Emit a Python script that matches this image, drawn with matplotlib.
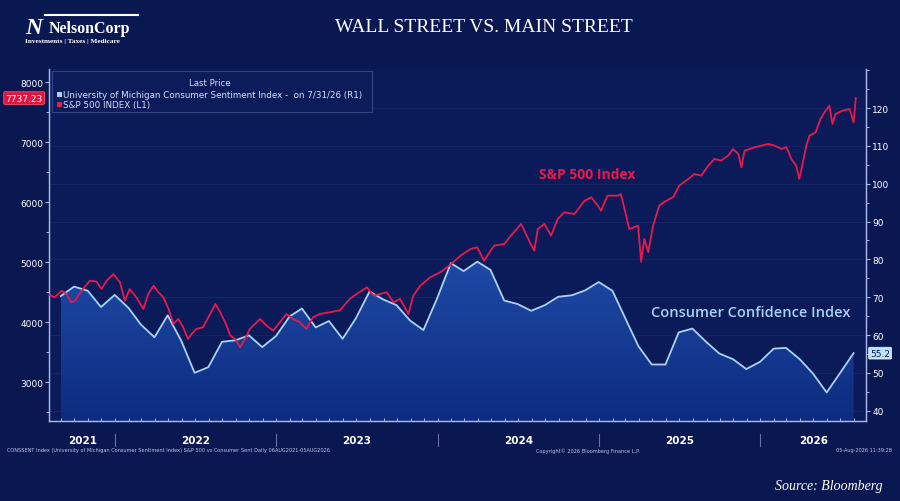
import numpy as np
import pandas as pd
import matplotlib
matplotlib.use("Agg")
import matplotlib.pyplot as plt
import matplotlib.dates as mdates
import matplotlib.transforms as mtransforms
from matplotlib.patches import Rectangle

# University of Michigan consumer sentiment, month end (right axis)
sent_dates = pd.date_range("2021-08-31", "2026-07-31", freq="ME")
sent_values = [70.3, 72.8, 71.7, 67.4, 70.6,
               67.2, 62.8, 59.4, 65.2, 58.4, 50.0, 51.5, 58.2, 58.6, 59.9, 56.8, 59.7,
               64.9, 67.0, 62.0, 63.7, 59.0, 64.4, 71.5, 69.4, 67.9, 63.8, 61.3, 69.7,
               79.0, 76.9, 79.4, 77.2, 69.1, 68.2, 66.4, 67.9, 70.1, 70.5, 71.8, 74.0,
               71.7, 64.7, 57.0, 52.2, 52.2, 60.7, 61.7, 58.2, 55.1, 53.6, 51.0, 52.9,
               56.4, 56.6, 53.6, 49.8, 44.8, 49.9, 55.2]

# S&P 500 (left axis)
spx_dates = ["2021-08-06", "2021-08-17", "2021-09-02", "2021-09-13", "2021-09-24", "2021-10-02",
             "2021-10-17", "2021-11-05", "2021-11-20", "2021-12-01", "2021-12-13", "2021-12-28",
             "2022-01-12", "2022-01-23", "2022-02-03", "2022-02-18", "2022-03-06", "2022-03-17",
             "2022-03-29", "2022-04-09", "2022-04-20", "2022-05-02", "2022-05-13", "2022-05-24",
             "2022-06-04", "2022-06-15", "2022-06-23", "2022-07-04", "2022-07-19", "2022-08-04",
             "2022-08-16", "2022-08-27", "2022-09-07", "2022-09-19", "2022-09-30", "2022-10-11",
             "2022-10-22", "2022-11-02", "2022-11-25", "2022-12-10", "2022-12-25", "2023-01-09",
             "2023-01-24", "2023-02-08", "2023-02-23", "2023-03-10", "2023-03-25", "2023-04-09",
             "2023-05-02", "2023-05-25", "2023-06-16", "2023-07-02", "2023-07-25", "2023-08-09",
             "2023-08-24", "2023-09-08", "2023-09-23", "2023-10-08", "2023-10-27", "2023-11-07",
             "2023-11-23", "2023-12-15", "2024-01-07", "2024-01-30", "2024-02-22", "2024-03-16",
             "2024-03-31", "2024-04-15", "2024-05-08", "2024-05-31", "2024-06-15", "2024-07-08",
             "2024-07-30", "2024-08-07", "2024-08-15", "2024-08-30", "2024-09-14", "2024-09-29",
             "2024-10-14", "2024-11-06", "2024-11-29", "2024-12-14", "2024-12-29", "2025-01-05",
             "2025-01-20", "2025-02-12", "2025-02-19", "2025-02-27", "2025-03-10", "2025-03-30",
             "2025-04-06", "2025-04-13", "2025-04-22", "2025-05-03", "2025-05-17", "2025-05-28",
             "2025-06-18", "2025-07-01", "2025-07-22", "2025-08-04", "2025-08-20", "2025-09-05",
             "2025-09-19", "2025-10-04", "2025-10-20", "2025-10-31", "2025-11-12", "2025-11-19",
             "2025-11-26", "2025-12-19", "2026-01-03", "2026-01-19", "2026-02-02", "2026-02-18",
             "2026-03-01", "2026-03-12", "2026-03-23", "2026-03-30", "2026-04-04", "2026-04-15",
             "2026-04-22", "2026-05-06", "2026-05-17", "2026-05-26", "2026-06-06", "2026-06-13",
             "2026-06-20", "2026-07-06", "2026-07-22", "2026-07-31", "2026-08-05"]
spx_values = [4455, 4417, 4527, 4472, 4333, 4360,
              4527, 4694, 4678, 4555, 4694, 4805,
              4667, 4360, 4555, 4417, 4222, 4472,
              4611, 4500, 4417, 4222, 3972, 4055,
              3917, 3722, 3805, 3889, 3917, 4138,
              4305, 4167, 4000, 3777, 3722, 3583,
              3722, 3889, 4055, 3944, 3861, 4000,
              4138, 4055, 4000, 3889, 4083, 4138,
              4167, 4200, 4389, 4472, 4583, 4444,
              4472, 4500, 4333, 4389, 4138, 4444,
              4611, 4750, 4833, 4960, 5111, 5222,
              5250, 5027, 5278, 5305, 5444, 5639,
              5305, 5194, 5555, 5639, 5444, 5722,
              5833, 5805, 6027, 6083, 5944, 5861,
              6111, 6110, 6139, 5900, 5555, 5610,
              5010, 5390, 5170, 5610, 5945, 6005,
              6090, 6277, 6390, 6472, 6445, 6612,
              6722, 6695, 6778, 6889, 6805, 6583,
              6860, 6917, 6944, 6972, 6944, 6889,
              6920, 6722, 6610, 6389, 6555, 6944,
              7111, 7167, 7388, 7500, 7611, 7305,
              7472, 7527, 7555, 7333, 7737.23]

year_labels = ["2021", "2022", "2023", "2024", "2025", "2026"]
left_ticks = [3000, 4000, 5000, 6000, 7000, 8000]
right_ticks = [40, 50, 60, 70, 80, 90, 100, 110, 120]

bg = "#0a1852"
red = "#e8194c"
lightblue = "#a9d3f5"
axis_col = "#a6b6e8"

spx_x = pd.to_datetime(spx_dates)
x0, x1 = pd.Timestamp("2021-08-05"), pd.Timestamp("2026-08-28")

fig = plt.figure(figsize=(9, 5.02), dpi=100, facecolor=bg)
ax = fig.add_axes([0.0548, 0.1594, 0.9074, 0.7012])
ax2 = ax.twinx()
ax.set_zorder(ax2.get_zorder() + 1)
ax.patch.set_visible(False)
ax2.patch.set_visible(True)
ax2.set_facecolor("#0b1a58")

ax.set_xlim(x0, x1)
ax.set_ylim(2355, 8222)
ax2.set_ylim(37.27, 130.33)

# faint gridlines from right axis
for v in right_ticks:
    ax2.axhline(v, color="#18296c", lw=0.5, zorder=0)

# sentiment area with gradient fill
sx = mdates.date2num(sent_dates)
poly = ax2.fill_between(sent_dates, sent_values, 37.27, facecolor="none", edgecolor="none")
grad = np.linspace(0, 1, 256).reshape(-1, 1)
cmap = matplotlib.colors.LinearSegmentedColormap.from_list("g", ["#0d2b80", "#1f4aa6"])
im = ax2.imshow(grad, extent=[sx[0], sx[-1], 37.27, 80], origin="lower", cmap=cmap,
                aspect="auto", zorder=1)
im.set_clip_path(poly.get_paths()[0], transform=ax2.transData)
ax2.set_xlim(x0, x1)
ax2.set_ylim(37.27, 130.33)
ax2.plot(sent_dates, sent_values, color=lightblue, lw=1.3, zorder=2)

ax.plot(spx_x, spx_values, color=red, lw=1.3, zorder=3)

# axes styling
for a in (ax, ax2):
    a.spines["top"].set_visible(False)
    for s in ("left", "right", "bottom"):
        a.spines[s].set_color(axis_col)
        a.spines[s].set_linewidth(0.9)

ax.set_yticks(left_ticks)
ax.set_yticklabels([str(v) for v in left_ticks])
ax.yaxis.set_minor_locator(matplotlib.ticker.MultipleLocator(500))
ax2.set_yticks(right_ticks)
ax2.set_yticklabels([str(v) for v in right_ticks])
ax2.yaxis.set_minor_locator(matplotlib.ticker.MultipleLocator(5))
for a in (ax, ax2):
    a.tick_params(axis="y", which="major", colors=axis_col, labelcolor="white",
                  labelsize=6.5, length=3, width=0.8, pad=1.5)
    a.tick_params(axis="y", which="minor", colors=axis_col, length=2, width=0.7)

ax.xaxis.set_major_locator(mdates.YearLocator())
ax.xaxis.set_minor_locator(mdates.MonthLocator())
ax.xaxis.set_major_formatter(matplotlib.ticker.NullFormatter())
ax.tick_params(axis="x", which="both", direction="in", colors=axis_col, length=2.5, width=0.7)
ax2.tick_params(axis="x", which="both", bottom=False, labelbottom=False)

# year labels and separators
trans = mtransforms.blended_transform_factory(ax.transData, ax.transAxes)
bounds = [x0] + [pd.Timestamp(f"{y}-01-01") for y in range(2022, 2027)] + [x1]
for i, lab in enumerate(year_labels):
    mid = bounds[i] + (bounds[i + 1] - bounds[i]) / 2
    ax.text(mid, -0.053, lab, transform=trans, ha="center", va="center",
            color="white", fontsize=7.5, fontweight="bold")
for b in bounds[1:-1]:
    ax.plot([b, b], [-0.037, -0.071], transform=trans, color="#5c6fae", lw=0.8, clip_on=False)

# series labels
ax.text(pd.Timestamp("2024-12-05"), 6470, "S&P 500 Index", color=red, fontsize=10,
        fontweight="bold", family="Open Sans", ha="center", va="center")
ax2.text(pd.Timestamp("2025-12-10"), 66.0, "Consumer Confidence Index", color=lightblue,
         fontsize=10.5, fontweight="semibold", family="Open Sans", ha="center", va="center")

# value tags
ax.text(-0.008, 7737.23, "7737.23",
        transform=mtransforms.blended_transform_factory(ax.transAxes, ax.transData),
        ha="right", va="center", color="white", fontsize=6.5,
        bbox=dict(boxstyle="round,pad=0.2,rounding_size=0.15", fc="#e0143e", ec="#ff5070", lw=0.6))
ax2.text(1.005, sent_values[-1], f"{sent_values[-1]:.1f}",
         transform=mtransforms.blended_transform_factory(ax2.transAxes, ax2.transData),
         ha="left", va="center", color="#0b1a57", fontsize=6.5,
         bbox=dict(boxstyle="round,pad=0.15,rounding_size=0.1", fc="#bfe2fb", ec="#e0f0ff", lw=0.6))

# legend box
fig.patches.append(Rectangle((52 / 900, 1 - 113 / 502), 320 / 900, 41 / 502, transform=fig.transFigure,
                             fc="#0c1b5a", ec="#34458a", lw=0.8, zorder=5))
fig.text(210 / 900, 1 - 83 / 502, "Last Price", color="#d8e0f8", fontsize=6.2, ha="center",
         va="center", zorder=6)
fig.patches.append(Rectangle((57 / 900, 1 - 98 / 502), 5 / 900, 5 / 502, transform=fig.transFigure,
                             fc=lightblue, ec="none", zorder=6))
fig.text(63 / 900, 1 - 95.5 / 502, "University of Michigan Consumer Sentiment Index -  on 7/31/26 (R1)",
         color="#d8e0f8", fontsize=6.3, ha="left", va="center", zorder=6)
fig.patches.append(Rectangle((57 / 900, 1 - 108 / 502), 5 / 900, 5 / 502, transform=fig.transFigure,
                             fc=red, ec="none", zorder=6))
fig.text(63 / 900, 1 - 105.5 / 502, "S&P 500 INDEX (L1)", color="#d8e0f8", fontsize=6.3,
         ha="left", va="center", zorder=6)

# title and logo
fig.text(484 / 900, 1 - 27 / 502, "WALL STREET VS. MAIN STREET", color="white", fontsize=14,
         family="Liberation Serif", ha="center", va="center")
fig.text(25 / 900, 1 - 29 / 502, "N", color="white", fontsize=17, fontweight="bold", style="italic",
         family="Liberation Serif", ha="left", va="center")
fig.text(49 / 900, 1 - 29 / 502, "NelsonCorp", color="white", fontsize=11.5, fontweight="bold",
         family="Liberation Serif", ha="left", va="center")
fig.lines.append(plt.Line2D([45 / 900, 138 / 900], [1 - 16 / 502, 1 - 16 / 502],
                            transform=fig.transFigure, color="white", lw=1.5))
fig.text(25 / 900, 1 - 42 / 502, "Investments | Taxes | Medicare", color="white", fontsize=5.2,
         fontweight="bold", family="Liberation Serif", ha="left", va="center")

# footer
fig.text(7 / 900, 1 - 451 / 502,
         "CONSSENT Index (University of Michigan Consumer Sentiment Index) S&P 500 vs Consumer Sent Daily 06AUG2021-05AUG2026",
         color="#b8c4e8", fontsize=3.6, ha="left", va="center")
fig.text(536 / 900, 1 - 451 / 502, "Copyright\u00a9 2026 Bloomberg Finance L.P.", color="#b8c4e8",
         fontsize=3.6, ha="left", va="center")
fig.text(892 / 900, 1 - 451 / 502, "05-Aug-2026 11:39:28", color="#b8c4e8", fontsize=3.6,
         ha="right", va="center")
fig.text(883 / 900, 1 - 487 / 502, "Source: Bloomberg", color="white", fontsize=10, style="italic",
         family="Liberation Serif", ha="right", va="center")

fig.savefig("out.png", dpi=100, facecolor=bg)
